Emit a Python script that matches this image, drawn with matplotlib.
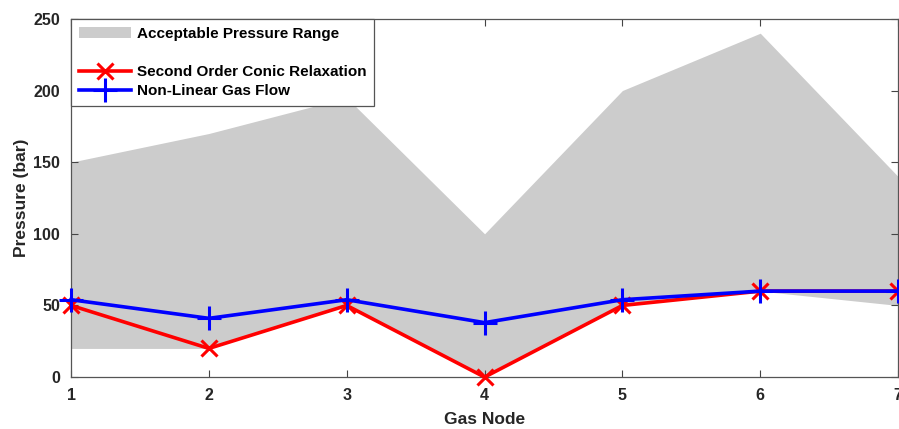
import matplotlib
matplotlib.use("Agg")
import matplotlib.pyplot as plt
from matplotlib.lines import Line2D
from matplotlib.patches import Patch

nodes = [1, 2, 3, 4, 5, 6, 7]
upper_limit = [150, 170, 195, 100, 200, 240, 140]
lower_limit = [20, 20, 50, 0, 50, 60, 50]
socr_pressure = [50, 20, 50, 0, 50, 60, 60]
nlgf_pressure = [54, 41, 54, 38, 54, 60, 60]

plt.rcParams['font.family'] = ['Liberation Sans', 'DejaVu Sans']
plt.rcParams['font.weight'] = 'bold'

fig = plt.figure(figsize=(8.99, 4.29), dpi=100)
ax = fig.add_axes([0.079, 0.121, 0.920, 0.835])

ax.fill_between(nodes, lower_limit, upper_limit, color='#cccccc', linewidth=0)
ax.plot(nodes, socr_pressure, color='red', linewidth=2.6, marker='x',
        markersize=12, markeredgewidth=2.2, clip_on=False, zorder=3)
ax.plot(nodes, nlgf_pressure, color='blue', linewidth=2.6, marker='+',
        markersize=17, markeredgewidth=2.2, clip_on=False, zorder=4)

ax.set_xlim(1, 7)
ax.set_ylim(0, 250)
ax.set_xticks(nodes)
ax.set_yticks([0, 50, 100, 150, 200, 250])
ax.tick_params(direction='in', length=5, width=0.8, color='#444444',
               labelsize=11.5, labelcolor='#262626', top=True, right=True, pad=8)
for lab in ax.get_xticklabels() + ax.get_yticklabels():
    lab.set_fontweight('bold')
for sp in ax.spines.values():
    sp.set_color('#555555')
    sp.set_linewidth(0.9)

ax.set_xlabel('Gas Node', fontsize=12.5, fontweight='bold', color='#262626', labelpad=6)
ax.set_ylabel('Pressure (bar)', fontsize=12.5, fontweight='bold', color='#262626', labelpad=3)

handles = [
    Patch(facecolor='#cccccc', edgecolor='none'),
    Line2D([], [], color='none'),
    Line2D([], [], color='red', linewidth=2.6, marker='x', markersize=12, markeredgewidth=2.2),
    Line2D([], [], color='blue', linewidth=2.6, marker='+', markersize=17, markeredgewidth=2.2),
]
labels = ['Acceptable Pressure Range', '', 'Second Order Conic Relaxation', 'Non-Linear Gas Flow']
leg = ax.legend(handles, labels, loc='upper left', bbox_to_anchor=(0, 1), fontsize=11,
                frameon=True, fancybox=False, edgecolor='#555555', framealpha=1,
                handlelength=3.4, handletextpad=0.4, labelspacing=0.34,
                borderaxespad=0, borderpad=0.5)
leg.get_frame().set_linewidth(0.9)
for t in leg.get_texts():
    t.set_fontweight('bold')

fig.savefig('out.png', dpi=100)
